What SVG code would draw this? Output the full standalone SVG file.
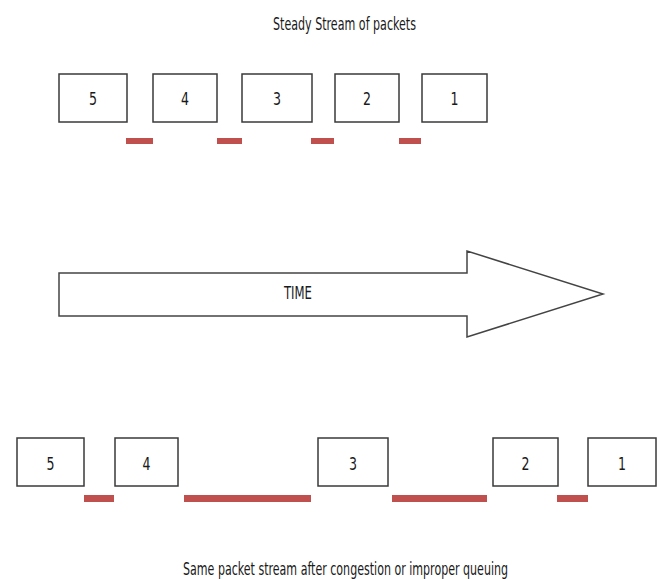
<svg xmlns="http://www.w3.org/2000/svg" width="659" height="579" viewBox="0 0 659 579">
<style>
.box{fill:#fff;stroke:#3a3a3a;stroke-width:1.5}
.gap{fill:#c0504d}
.t{font-family:"Liberation Sans Narrow","DejaVu Sans Condensed","Liberation Sans",sans-serif;fill:#1a1a1a}
.num{font-size:18px;text-anchor:middle}
.lbl{font-size:17px}
</style>
<rect width="659" height="579" fill="#fff"/>
<text class="t lbl" x="273" y="30" textLength="143" lengthAdjust="spacingAndGlyphs">Steady Stream of packets</text>
<g id="top-5"><rect class="box" x="59" y="74" width="68" height="48"/><text class="t num" x="93" y="105" textLength="8" lengthAdjust="spacingAndGlyphs">5</text></g>
<g id="top-4"><rect class="box" x="153" y="74" width="64" height="48"/><text class="t num" x="185" y="105" textLength="8" lengthAdjust="spacingAndGlyphs">4</text></g>
<g id="top-3"><rect class="box" x="242" y="74" width="70" height="48"/><text class="t num" x="277" y="105" textLength="8" lengthAdjust="spacingAndGlyphs">3</text></g>
<g id="top-2"><rect class="box" x="335" y="74" width="64" height="48"/><text class="t num" x="367" y="105" textLength="8" lengthAdjust="spacingAndGlyphs">2</text></g>
<g id="top-1"><rect class="box" x="422" y="74" width="65" height="48"/><text class="t num" x="454.5" y="105" textLength="8" lengthAdjust="spacingAndGlyphs">1</text></g>
<g id="top-gaps">
<rect class="gap" x="126" y="138" width="27" height="6"/>
<rect class="gap" x="217" y="138" width="25" height="6"/>
<rect class="gap" x="311" y="138" width="23" height="6"/>
<rect class="gap" x="399" y="138" width="22" height="6"/>
</g>
<g id="time-arrow">
<polygon points="59,273 467,273 467,251 603,294 467,337 467,316 59,316" fill="#fff" stroke="#444" stroke-width="1.5" stroke-linejoin="miter"/>
<text class="t lbl" x="284" y="299" textLength="28" lengthAdjust="spacingAndGlyphs">TIME</text>
</g>
<g id="bot-5"><rect class="box" x="17" y="438" width="67" height="48"/><text class="t num" x="50.5" y="470" textLength="8" lengthAdjust="spacingAndGlyphs">5</text></g>
<g id="bot-4"><rect class="box" x="115" y="438" width="63" height="48"/><text class="t num" x="146.5" y="470" textLength="8" lengthAdjust="spacingAndGlyphs">4</text></g>
<g id="bot-3"><rect class="box" x="318" y="438" width="70" height="48"/><text class="t num" x="353" y="470" textLength="8" lengthAdjust="spacingAndGlyphs">3</text></g>
<g id="bot-2"><rect class="box" x="493" y="438" width="65" height="48"/><text class="t num" x="525.5" y="470" textLength="8" lengthAdjust="spacingAndGlyphs">2</text></g>
<g id="bot-1"><rect class="box" x="588" y="438" width="68" height="48"/><text class="t num" x="622" y="470" textLength="8" lengthAdjust="spacingAndGlyphs">1</text></g>
<g id="bot-gaps">
<rect class="gap" x="84" y="495" width="30" height="7"/>
<rect class="gap" x="184" y="495" width="127" height="7"/>
<rect class="gap" x="392" y="495" width="95" height="7"/>
<rect class="gap" x="557" y="495" width="31" height="7"/>
</g>
<text class="t lbl" x="183" y="575" textLength="325" lengthAdjust="spacingAndGlyphs">Same packet stream after congestion or improper queuing</text>
</svg>
